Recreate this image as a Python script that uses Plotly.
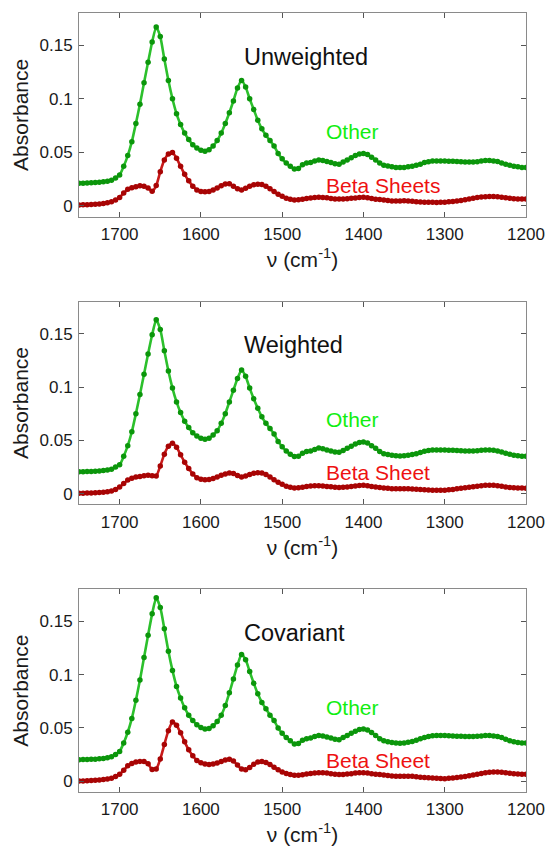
import plotly.graph_objects as go

# Wavenumber grid (cm^-1), 5 cm^-1 spacing, high to low
nu = list(range(1750, 1195, -5))

# ---------------- Unweighted ----------------
other_unweighted = [
    0.0212, 0.0213, 0.0214, 0.0216, 0.0218, 0.0221, 0.0225, 0.0230, 0.0240, 0.0262,  # 1750-1705
    0.029, 0.037, 0.047, 0.060, 0.077, 0.095, 0.115, 0.134, 0.153, 0.167,            # 1700-1655
    0.158, 0.137, 0.117, 0.100, 0.086, 0.076, 0.068, 0.062, 0.057, 0.054,            # 1650-1605
    0.052, 0.051, 0.0525, 0.056, 0.061, 0.068, 0.077, 0.087, 0.098, 0.110,           # 1600-1555
    0.117, 0.111, 0.100, 0.090, 0.080, 0.072, 0.066, 0.061, 0.056, 0.049,            # 1550-1505
    0.044, 0.040, 0.037, 0.0345, 0.035, 0.0385, 0.040, 0.0405, 0.042, 0.043,         # 1500-1455
    0.0425, 0.0415, 0.0405, 0.0395, 0.039, 0.041, 0.043, 0.045, 0.047, 0.0485,       # 1450-1405
    0.049, 0.048, 0.0455, 0.043, 0.040, 0.038, 0.0374, 0.0365, 0.036, 0.0358,        # 1400-1355
    0.036, 0.0365, 0.037, 0.038, 0.039, 0.0405, 0.0413, 0.042, 0.042, 0.042,         # 1350-1305
    0.042, 0.0418, 0.0418, 0.0415, 0.0413, 0.041, 0.041, 0.041, 0.0413, 0.042,       # 1300-1255
    0.0424, 0.0424, 0.042, 0.0415, 0.040, 0.039, 0.038, 0.037, 0.0365, 0.036,        # 1250-1205
    0.036,                                                                            # 1200
]
beta_unweighted = [
    0.0010, 0.0011, 0.0012, 0.0014, 0.0016, 0.0019, 0.0023, 0.0030, 0.0040, 0.0055,
    0.0080, 0.0120, 0.0155, 0.0170, 0.0180, 0.0188, 0.0185, 0.0167, 0.0138, 0.0190,
    0.0320, 0.0430, 0.0485, 0.0498, 0.0445, 0.0370, 0.0295, 0.0235, 0.0185, 0.0150,
    0.0135, 0.0132, 0.0135, 0.0150, 0.0168, 0.0189, 0.0205, 0.0208, 0.0185, 0.0160,
    0.0150, 0.0165, 0.0185, 0.0198, 0.0203, 0.0200, 0.0185, 0.0160, 0.0135, 0.0110,
    0.0090, 0.0072, 0.0062, 0.0057, 0.0058, 0.0063, 0.0070, 0.0075, 0.0079, 0.0081,
    0.0080, 0.0076, 0.0070, 0.0066, 0.0065, 0.0066, 0.0068, 0.0071, 0.0075, 0.0080,
    0.0081, 0.0076, 0.0070, 0.0064, 0.0060, 0.0056, 0.0051, 0.0047, 0.0046, 0.0047,
    0.0048, 0.0047, 0.0044, 0.0040, 0.0037, 0.0035, 0.0034, 0.0034, 0.0033, 0.0034,
    0.0036, 0.0040, 0.0043, 0.0047, 0.0052, 0.0058, 0.0065, 0.0072, 0.0078, 0.0083,
    0.0087, 0.0088, 0.0088, 0.0086, 0.0082, 0.0076, 0.0071, 0.0068, 0.0066, 0.0065,
    0.0065,
]

# ---------------- Weighted ----------------
other_weighted = [
    0.0205, 0.0206, 0.0207, 0.0208, 0.0210, 0.0212, 0.0216, 0.0221, 0.0230, 0.0250,
    0.027, 0.035, 0.045, 0.058, 0.075, 0.093, 0.112, 0.131, 0.149, 0.163,
    0.154, 0.134, 0.115, 0.099, 0.086, 0.076, 0.068, 0.062, 0.057, 0.054,
    0.052, 0.051, 0.052, 0.055, 0.059, 0.066, 0.075, 0.086, 0.097, 0.108,
    0.116, 0.110, 0.099, 0.089, 0.080, 0.072, 0.066, 0.061, 0.056, 0.049,
    0.044, 0.040, 0.037, 0.0348, 0.035, 0.038, 0.0395, 0.040, 0.0415, 0.0428,
    0.042, 0.041, 0.040, 0.039, 0.0388, 0.0405, 0.0425, 0.0445, 0.0465, 0.048,
    0.0485, 0.0475, 0.045, 0.0425, 0.0395, 0.0375, 0.0368, 0.036, 0.0355, 0.0353,
    0.0355, 0.036, 0.0366, 0.0375, 0.0385, 0.0397, 0.0405, 0.041, 0.041, 0.041,
    0.041, 0.0408, 0.0407, 0.0405, 0.0403, 0.040, 0.040, 0.040, 0.0402, 0.0407,
    0.041, 0.041, 0.0407, 0.040, 0.039, 0.038, 0.037, 0.036, 0.0355, 0.035,
    0.035,
]
beta_weighted = [
    0.0003, 0.0004, 0.0005, 0.0006, 0.0008, 0.0010, 0.0012, 0.0017, 0.0025, 0.0040,
    0.0062, 0.0095, 0.0128, 0.0145, 0.0155, 0.0162, 0.0167, 0.0172, 0.0168, 0.0165,
    0.0260, 0.0370, 0.0445, 0.0472, 0.0435, 0.0365, 0.0295, 0.0235, 0.0185, 0.0150,
    0.0135, 0.0130, 0.0132, 0.0143, 0.0157, 0.0172, 0.0185, 0.0193, 0.0190, 0.0170,
    0.0157, 0.0165, 0.0180, 0.0192, 0.0197, 0.0193, 0.0180, 0.0157, 0.0130, 0.0107,
    0.0088, 0.0070, 0.0059, 0.0054, 0.0055, 0.0061, 0.0067, 0.0071, 0.0073, 0.0073,
    0.0071, 0.0068, 0.0064, 0.0060, 0.0058, 0.0059, 0.0062, 0.0066, 0.0071, 0.0076,
    0.0078, 0.0074, 0.0068, 0.0062, 0.0058, 0.0054, 0.0050, 0.0046, 0.0045, 0.0046,
    0.0047, 0.0046, 0.0044, 0.0041, 0.0038, 0.0036, 0.0035, 0.0033, 0.0032, 0.0032,
    0.0033, 0.0036, 0.0040, 0.0045, 0.0050, 0.0055, 0.0060, 0.0065, 0.0070, 0.0075,
    0.0078, 0.0079, 0.0078, 0.0075, 0.0070, 0.0063, 0.0058, 0.0055, 0.0053, 0.0052,
    0.0051,
]

# ---------------- Covariant ----------------
other_covariant = [
    0.0203, 0.0204, 0.0205, 0.0206, 0.0208, 0.0211, 0.0215, 0.0221, 0.0230, 0.0252,
    0.028, 0.036, 0.046, 0.059, 0.076, 0.095, 0.116, 0.137, 0.157, 0.172,
    0.163, 0.143, 0.122, 0.104, 0.089, 0.078, 0.069, 0.062, 0.057, 0.053,
    0.0505, 0.049, 0.0495, 0.052, 0.056, 0.062, 0.071, 0.083, 0.096, 0.109,
    0.119, 0.114, 0.103, 0.092, 0.082, 0.074, 0.068, 0.062, 0.057, 0.050,
    0.045, 0.041, 0.038, 0.035, 0.0355, 0.0385, 0.0398, 0.0405, 0.042, 0.043,
    0.0425, 0.0415, 0.0405, 0.0395, 0.039, 0.041, 0.043, 0.045, 0.047, 0.0485,
    0.049, 0.048, 0.0458, 0.043, 0.040, 0.038, 0.0372, 0.0365, 0.036, 0.0358,
    0.036, 0.0366, 0.0374, 0.0385, 0.0398, 0.041, 0.042, 0.0428, 0.043, 0.043,
    0.043, 0.0428, 0.0425, 0.0423, 0.0422, 0.042, 0.042, 0.042, 0.0422, 0.0426,
    0.043, 0.043, 0.0426, 0.042, 0.041, 0.0395, 0.038, 0.037, 0.0365, 0.036,
    0.036,
]
beta_covariant = [
    0.0003, 0.0004, 0.0005, 0.0007, 0.0009, 0.0012, 0.0016, 0.0022, 0.0030, 0.0045,
    0.0066, 0.0105, 0.0145, 0.0168, 0.0180, 0.0187, 0.0185, 0.0165, 0.0110, 0.0115,
    0.0210, 0.0345, 0.0475, 0.0555, 0.0525, 0.0455, 0.0370, 0.0295, 0.0240, 0.0195,
    0.0175, 0.0163, 0.0158, 0.0163, 0.0172, 0.0185, 0.0200, 0.0208, 0.0190, 0.0152,
    0.0115, 0.0108, 0.0130, 0.0160, 0.0180, 0.0185, 0.0177, 0.0157, 0.0133, 0.0108,
    0.0088, 0.0073, 0.0063, 0.0057, 0.0057, 0.0062, 0.0068, 0.0073, 0.0077, 0.0080,
    0.0081, 0.0078, 0.0072, 0.0066, 0.0063, 0.0064, 0.0068, 0.0072, 0.0077, 0.0080,
    0.0081, 0.0077, 0.0071, 0.0066, 0.0063, 0.0059, 0.0054, 0.0049, 0.0047, 0.0047,
    0.0048, 0.0048, 0.0047, 0.0043, 0.0039, 0.0036, 0.0034, 0.0031, 0.0028, 0.0026,
    0.0025, 0.0028, 0.0032, 0.0036, 0.0040, 0.0046, 0.0052, 0.0059, 0.0066, 0.0073,
    0.0080, 0.0085, 0.0088, 0.0088, 0.0085, 0.0080, 0.0076, 0.0072, 0.0069, 0.0067,
    0.0066,
]

panel_titles = ["Unweighted", "Weighted", "Covariant"]
beta_labels = ["Beta Sheets", "Beta Sheet", "Beta Sheet"]
other_label = "Other"
x_ticks = [1700, 1600, 1500, 1400, 1300, 1200]
y_ticks = [0, 0.05, 0.1, 0.15]
y_ticktext = ["0", "0.05", "0.1", "0.15"]

series = [
    (other_unweighted, beta_unweighted),
    (other_weighted, beta_weighted),
    (other_covariant, beta_covariant),
]
for o, b in series:
    assert len(o) == len(nu) and len(b) == len(nu)

FONT = "Liberation Sans, Arial, sans-serif"
GREEN_DOT, GREEN_LINE, GREEN_TEXT = "#0b960b", "#2cc02c", "#11ee11"
RED_DOT, RED_LINE, RED_TEXT = "#a80404", "#c81a1a", "#ee1111"

domains = [[0.7385, 1.0], [0.3693, 0.6294], [0.0, 0.2602]]

fig = go.Figure()
annotations = []
for i, ((other, beta), title, blabel) in enumerate(zip(series, panel_titles, beta_labels)):
    n = "" if i == 0 else str(i + 1)
    xa, ya = "x" + n, "y" + n
    for vals, dot, line in ((beta, RED_DOT, RED_LINE), (other, GREEN_DOT, GREEN_LINE)):
        # smooth connecting band under the sample dots
        fig.add_trace(go.Scatter(
            x=nu, y=vals, xaxis=xa, yaxis=ya, mode="lines+markers",
            line=dict(color=line, width=2.6, shape="spline", smoothing=0.6),
            marker=dict(size=5.5, color=dot, line=dict(width=0)),
            showlegend=False, hoverinfo="skip",
        ))
    axis_common = dict(
        showline=True, linecolor="#8a8a8a", linewidth=1, mirror="allticks",
        ticks="inside", ticklen=5, tickwidth=1, tickcolor="#555555",
        showgrid=False, zeroline=False, automargin=False,
        tickfont=dict(family=FONT, size=17, color="#1a1a1a"),
    )
    fig.layout["xaxis" + n] = dict(
        axis_common, domain=[0, 1], anchor=ya, range=[1750, 1200],
        tickvals=x_ticks, ticktext=[str(t) for t in x_ticks],
        ticklabelstandoff=2,
        title=dict(text="\u03bd (cm<sup>-1</sup>)", standoff=9,
                   font=dict(family=FONT, size=21, color="#1a1a1a")),
    )
    fig.layout["yaxis" + n] = dict(
        axis_common, domain=domains[i], anchor=xa, range=[-0.01, 0.18],
        tickvals=y_ticks, ticktext=y_ticktext,
        ticklabelstandoff=2,
        title=dict(text="Absorbance", standoff=5,
                   font=dict(family=FONT, size=21, color="#1a1a1a")),
    )
    annotations += [
        dict(x=1550, y=0.139, xref=xa, yref=ya, text=title, showarrow=False,
             xanchor="left", yanchor="middle",
             font=dict(family=FONT, size=23.5, color="#111111")),
        dict(x=1449, y=0.0696, xref=xa, yref=ya, text=other_label, showarrow=False,
             xanchor="left", yanchor="middle",
             font=dict(family=FONT, size=21, color=GREEN_TEXT)),
        dict(x=1449, y=0.0195, xref=xa, yref=ya, text=blabel, showarrow=False,
             xanchor="left", yanchor="middle",
             font=dict(family=FONT, size=21, color=RED_TEXT)),
    ]

fig.update_layout(
    width=549, height=846,
    margin=dict(l=79, r=23, t=13, b=54, autoexpand=False),
    plot_bgcolor="white", paper_bgcolor="white",
    annotations=annotations,
    font=dict(family=FONT),
)

fig.write_html("out.html")
